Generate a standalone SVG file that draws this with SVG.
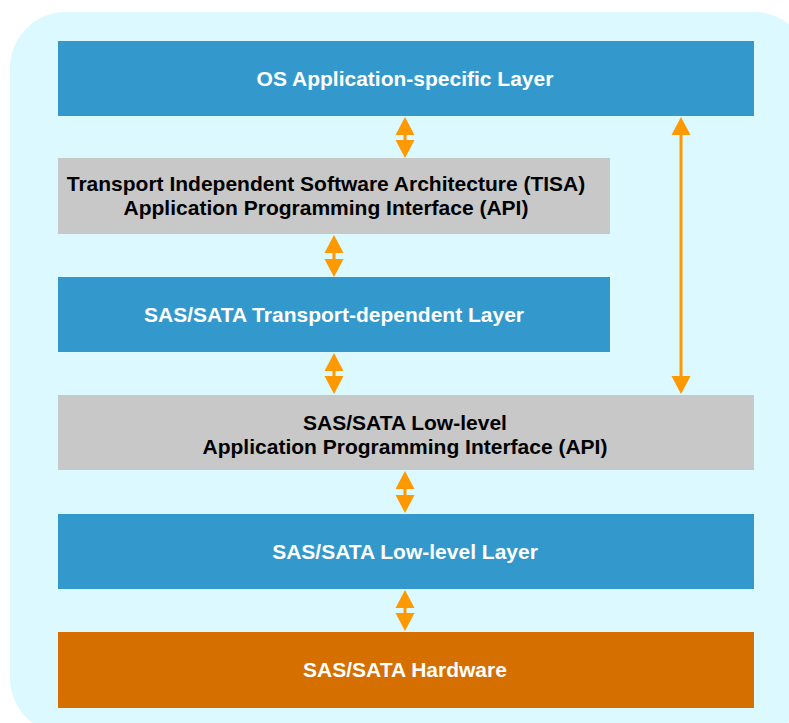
<svg xmlns="http://www.w3.org/2000/svg" width="789" height="723" viewBox="0 0 789 723">
<style>
.blue{fill:#3399CC}
.gray{fill:#C8C8C8}
.hw{fill:#D46F00}
.t{font-family:"Liberation Sans",Arial,sans-serif;font-weight:bold;font-size:21px;text-anchor:middle}
.w{fill:#FFFFFF}
.k{fill:#000000}
.arr{fill:#FF9900}
</style>
<rect x="10" y="12" width="800" height="722" rx="56" ry="56" fill="#DBF9FF"/>
<g id="os-layer">
<rect class="blue" x="58" y="41" width="696" height="75"/>
<text class="t w" x="405" y="86">OS Application-specific Layer</text>
</g>
<g id="tisa-api">
<rect class="gray" x="58" y="158" width="552" height="76"/>
<text class="t k" x="326" y="191">Transport Independent Software Architecture (TISA)</text>
<text class="t k" x="326" y="215">Application Programming Interface (API)</text>
</g>
<g id="transport-layer">
<rect class="blue" x="58" y="277" width="552" height="75"/>
<text class="t w" x="334" y="322">SAS/SATA Transport-dependent Layer</text>
</g>
<g id="lowlevel-api">
<rect class="gray" x="58" y="395" width="696" height="75"/>
<text class="t k" x="405" y="430">SAS/SATA Low-level</text>
<text class="t k" x="405" y="454">Application Programming Interface (API)</text>
</g>
<g id="lowlevel-layer">
<rect class="blue" x="58" y="514" width="696" height="75"/>
<text class="t w" x="405" y="559">SAS/SATA Low-level Layer</text>
</g>
<g id="hardware">
<rect class="hw" x="58" y="632" width="696" height="76"/>
<text class="t w" x="405" y="677">SAS/SATA Hardware</text>
</g>
<g id="connectors">
<path class="arr" d="M405,117 L414.5,135 L406.5,135 L406.5,140 L414.5,140 L405,158 L395.5,140 L403.5,140 L403.5,135 L395.5,135 Z"/>
<path class="arr" d="M334,235 L343.5,253 L335.5,253 L335.5,259 L343.5,259 L334,277 L324.5,259 L332.5,259 L332.5,253 L324.5,253 Z"/>
<path class="arr" d="M334,353 L343.5,371 L335.5,371 L335.5,376 L343.5,376 L334,394 L324.5,376 L332.5,376 L332.5,371 L324.5,371 Z"/>
<path class="arr" d="M405,471 L414.5,489 L406.5,489 L406.5,495 L414.5,495 L405,513 L395.5,495 L403.5,495 L403.5,489 L395.5,489 Z"/>
<path class="arr" d="M405,590 L414.5,608 L406.5,608 L406.5,613 L414.5,613 L405,631 L395.5,613 L403.5,613 L403.5,608 L395.5,608 Z"/>
<path class="arr" d="M681,117 L690.5,135 L682.5,135 L682.5,376 L690.5,376 L681,394 L671.5,376 L679.5,376 L679.5,135 L671.5,135 Z"/>
</g>
</svg>
